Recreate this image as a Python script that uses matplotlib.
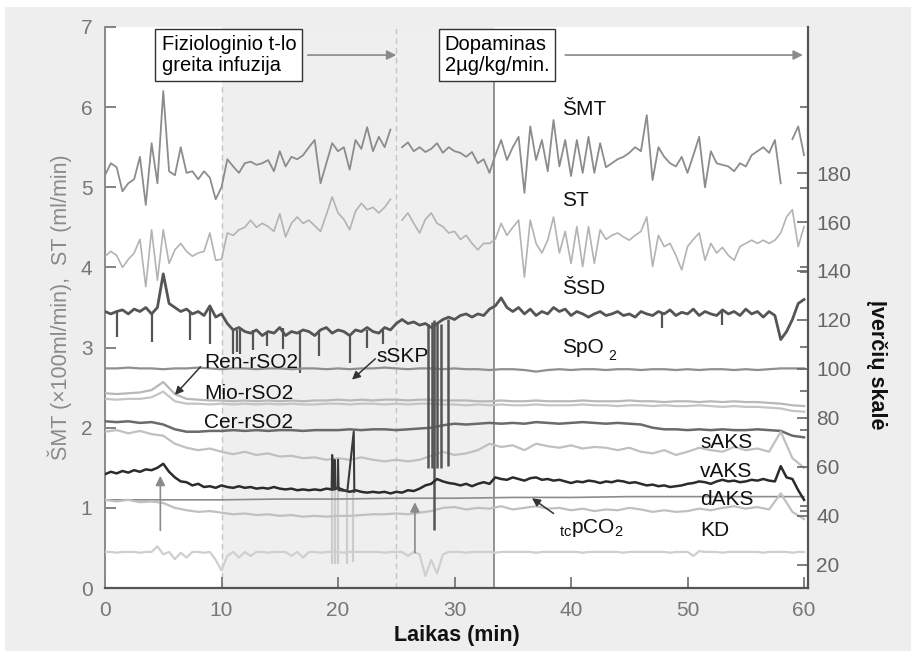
import numpy as np
import matplotlib.pyplot as plt
from matplotlib.patches import Rectangle

plt.rcParams['font.family'] = ['Liberation Sans', 'DejaVu Sans']
plt.rcParams['mathtext.fontset'] = 'custom'
plt.rcParams['mathtext.rm'] = 'Liberation Sans'

# time grids (min)
t_half = np.arange(0, 60.01, 0.5)
t_min = np.arange(0, 61, 1)
t_5 = np.arange(0, 61, 5)
nan = np.nan

# SMT, left scale (x100 ml/min), every 0.5 min
smt = [5.15, 5.30, 5.25, 4.95, 5.05, 5.10, 5.38, 4.78, 5.55, 5.05,
       6.20, 5.20, 5.15, 5.50, 5.18, 5.20, 5.10, 5.20, 5.12, 4.85,
       5.00, 5.35, 5.26, 5.18, 5.30, 5.32, 5.28, 5.30, 5.34, 5.20,
       5.45, 5.26, 5.38, 5.35, 5.40, 5.50, 5.59, 5.05, 5.30, 5.55,
       5.45, 5.50, 5.22, 5.59, 5.48, 5.75, 5.45, 5.63, 5.50, 5.72,
       nan, 5.50, 5.56, 5.45, 5.50, 5.44, 5.48, 5.55, 5.43, 5.50,
       5.45, 5.43, 5.38, 5.44, 5.30, 5.35, 5.18, 5.40, 5.59, 5.34,
       5.50, 5.63, 4.93, 5.76, 5.34, 5.59, 5.20, 5.84, 5.26, 5.59,
       5.14, 5.59, 5.18, 5.63, 5.18, 5.55, 5.25, 5.30, 5.35, 5.38,
       5.43, 5.50, 5.45, 5.90, 5.09, 5.50, 5.38, 5.30, 5.26, 5.38,
       5.18, 5.40, 5.63, 5.00, 5.45, 5.30, 5.28, 5.26, 5.20, 5.30,
       5.26, 5.40, 5.45, 5.50, 5.43, 5.59, 5.05, nan, 5.60, 5.76,
       5.40]

# ST (ml/min)
st = [4.14, 4.20, 4.15, 4.00, 4.10, 4.18, 4.35, 3.76, 4.47, 3.84,
      4.47, 4.05, 4.22, 4.30, 4.20, 4.14, 4.18, 4.20, 4.43, 4.09,
      4.10, 4.43, 4.40, 4.47, 4.50, 4.59, 4.50, 4.55, 4.51, 4.45,
      4.67, 4.38, 4.55, 4.63, 4.55, 4.59, 4.52, 4.45, 4.66, 4.88,
      4.68, 4.60, 4.47, 4.70, 4.80, 4.72, 4.75, 4.68, 4.75, 4.85,
      nan, 4.59, 4.68, 4.55, 4.43, 4.60, 4.68, 4.55, 4.51, 4.43,
      4.45, 4.35, 4.40, 4.30, 4.22, 4.30, 4.30, 4.35, 4.55, 4.40,
      4.50, 4.59, 3.88, 4.59, 4.30, 4.18, 4.34, 4.63, 4.18, 4.45,
      4.05, 4.51, 4.01, 4.51, 4.05, 4.47, 4.35, 4.40, 4.43, 4.38,
      4.34, 4.40, 4.45, 4.63, 4.01, 4.40, 4.26, 4.30, 4.15, 3.97,
      4.26, 4.35, 4.43, 4.09, 4.30, 4.18, 4.25, 4.15, 4.09, 4.26,
      4.30, 4.34, 4.30, 4.34, 4.30, 4.34, 4.43, 4.63, 4.72, 4.26,
      4.51]

# SSD
ssd = [3.45, 3.42, 3.45, 3.47, 3.42, 3.48, 3.45, 3.50, 3.42, 3.50,
       3.92, 3.55, 3.50, 3.45, 3.48, 3.42, 3.45, 3.40, 3.52, 3.38,
       3.42, 3.30, 3.22, 3.25, 3.20, 3.18, 3.22, 3.15, 3.20, 3.18,
       3.25, 3.15, 3.20, 3.18, 3.22, 3.20, 3.15, 3.22, 3.25, 3.18,
       3.22, 3.20, 3.15, 3.22, 3.20, 3.25, 3.20, 3.18, 3.25, 3.22,
       3.30, 3.35, 3.30, 3.32, 3.28, 3.30, 3.25, 3.30, 3.35, 3.38,
       3.35, 3.40, 3.42, 3.38, 3.42, 3.40, 3.48, 3.52, 3.62, 3.50,
       3.45, 3.50, 3.42, 3.48, 3.40, 3.45, 3.42, 3.50, 3.45, 3.48,
       3.40, 3.45, 3.42, 3.38, 3.42, 3.45, 3.40, 3.42, 3.45, 3.40,
       3.42, 3.38, 3.45, 3.42, 3.40, 3.45, 3.42, 3.47, 3.40, 3.44,
       3.42, 3.48, 3.40, 3.45, 3.42, 3.40, 3.47, 3.42, 3.45, 3.40,
       3.48, 3.42, 3.45, 3.38, 3.45, 3.40, 3.10, 3.20, 3.35, 3.55,
       3.60]
ssd_spike_t = [1.0, 4.0, 7.3, 9.0, 11.0, 11.3, 11.6, 12.7, 13.9, 15.3, 16.7, 18.4, 21.0, 22.5, 23.9, 47.8, 53.0]
ssd_spike_top = [3.44, 3.42, 3.45, 3.50, 3.22, 3.22, 3.25, 3.22, 3.20, 3.25, 3.20, 3.22, 3.15, 3.22, 3.22, 3.42, 3.44]
ssd_spike_low = [3.13, 3.07, 3.10, 3.05, 2.92, 2.95, 2.92, 2.97, 3.02, 2.98, 2.68, 2.90, 2.81, 3.00, 3.05, 3.25, 3.28]

# sSKP artefacts
skp_t = [27.7, 28.1, 28.2, 28.5, 28.8, 29.4]
skp_top = [3.30, 3.32, 3.35, 3.32, 3.30, 3.36]
skp_low = [1.50, 1.50, 0.72, 1.50, 1.50, 1.52]

# every 1 min
spo2 = [2.74, 2.74, 2.75, 2.74, 2.74, 2.73, 2.74, 2.74, 2.75, 2.74,
        2.73, 2.74, 2.74, 2.73, 2.74, 2.74, 2.73, 2.74, 2.74, 2.73,
        2.74, 2.73, 2.74, 2.74, 2.75, 2.74, 2.73, 2.74, 2.74, 2.73,
        2.74, 2.73, 2.73, 2.72, 2.73, 2.73, 2.72, 2.70, 2.72, 2.73,
        2.72, 2.73, 2.73, 2.72, 2.73, 2.73, 2.72, 2.73, 2.73, 2.72,
        2.73, 2.72, 2.73, 2.73, 2.72, 2.73, 2.72, 2.73, 2.74, 2.74,
        2.74]
ren = [2.43, 2.42, 2.43, 2.44, 2.47, 2.57, 2.42, 2.36, 2.35, 2.34,
       2.34, 2.33, 2.34, 2.33, 2.34, 2.33, 2.34, 2.33, 2.34, 2.34,
       2.35, 2.34, 2.35, 2.34, 2.35, 2.35, 2.34, 2.35, 2.35, 2.34,
       2.34, 2.34, 2.33, 2.33, 2.34, 2.33, 2.33, 2.34, 2.33, 2.33,
       2.33, 2.34, 2.33, 2.33, 2.33, 2.34, 2.33, 2.33, 2.32, 2.33,
       2.33, 2.32, 2.33, 2.32, 2.33, 2.32, 2.32, 2.31, 2.30, 2.28,
       2.27]
mio = [2.36, 2.35, 2.36, 2.36, 2.38, 2.45, 2.33, 2.30, 2.30, 2.29,
       2.30, 2.29, 2.30, 2.29, 2.30, 2.29, 2.30, 2.29, 2.29, 2.30,
       2.30, 2.29, 2.30, 2.30, 2.29, 2.30, 2.29, 2.30, 2.30, 2.29,
       2.29, 2.28, 2.29, 2.28, 2.29, 2.28, 2.28, 2.29, 2.28, 2.28,
       2.28, 2.29, 2.28, 2.28, 2.27, 2.28, 2.28, 2.27, 2.28, 2.27,
       2.27, 2.28, 2.27, 2.26, 2.27, 2.26, 2.26, 2.25, 2.24, 2.21,
       2.20]
cer = [2.08, 2.07, 2.08, 2.06, 2.07, 2.04, 1.98, 1.95, 1.95, 1.96,
       1.96, 1.97, 1.96, 1.97, 1.96, 1.97, 1.97, 1.96, 1.97, 1.97,
       1.97, 1.98, 1.97, 1.98, 1.98, 1.97, 1.98, 1.99, 2.00, 2.03,
       2.05, 2.04, 2.05, 2.06, 2.05, 2.06, 2.05, 2.07, 2.06, 2.05,
       2.06, 2.07, 2.06, 2.05, 2.06, 2.05, 2.04, 2.00, 1.98, 1.98,
       1.97, 1.98, 1.97, 1.98, 1.97, 1.97, 1.98, 1.97, 1.96, 1.90,
       1.88]
saks = [1.95, 1.97, 1.93, 1.96, 1.92, 1.90, 1.80, 1.75, 1.72, 1.74,
        1.70, 1.67, 1.70, 1.66, 1.68, 1.64, 1.65, 1.62, 1.63, 1.60,
        1.62, 1.60, 1.63, 1.60, 1.58, 1.60, 1.58, 1.60, 1.65, 1.70,
        1.66, 1.68, 1.72, 1.80, 1.76, 1.78, 1.72, 1.80, 1.77, 1.75,
        1.78, 1.74, 1.76, 1.75, 1.72, 1.75, 1.70, 1.68, 1.72, 1.66,
        1.70, 1.75, 1.72, 1.70, 1.76, 1.72, 1.74, 1.70, 1.95, 1.62,
        1.50]
daks = [1.10, 1.08, 1.10, 1.07, 1.08, 1.06, 1.00, 0.97, 0.95, 0.96,
        0.94, 0.92, 0.93, 0.91, 0.92, 0.90, 0.91, 0.89, 0.90, 0.89,
        0.90, 0.90, 0.91, 0.92, 0.92, 0.93, 0.92, 0.94, 0.96, 1.00,
        1.01, 0.98, 1.00, 0.99, 1.02, 0.98, 1.00, 1.02, 0.99, 1.00,
        0.97, 0.99, 0.96, 0.98, 0.97, 1.00, 0.98, 0.95, 0.97, 0.95,
        0.96, 0.99, 0.97, 1.00, 1.02, 0.99, 1.01, 0.98, 1.18, 0.95,
        0.86]

# vAKS, every 0.5 min
vaks = [1.42, 1.45, 1.43, 1.46, 1.44, 1.47, 1.45, 1.48, 1.47, 1.50,
        1.55, 1.45, 1.38, 1.33, 1.32, 1.28, 1.30, 1.26, 1.27, 1.25,
        1.28, 1.26, 1.25, 1.27, 1.25, 1.26, 1.24, 1.25, 1.24, 1.26,
        1.24, 1.23, 1.24, 1.22, 1.23, 1.22, 1.23, 1.22, 1.24, 1.23,
        1.25, 1.22, 1.20, 1.22, 1.20, 1.19, 1.20, 1.19, 1.20, 1.18,
        1.20, 1.19, 1.22, 1.21, 1.24, 1.28, 1.30, 1.36, 1.33, 1.31,
        1.30, 1.28, 1.30, 1.27, 1.30, 1.32, 1.30, 1.38, 1.36, 1.35,
        1.38, 1.36, 1.34, 1.37, 1.38, 1.35, 1.36, 1.34, 1.35, 1.33,
        1.31, 1.33, 1.32, 1.34, 1.33, 1.31, 1.33, 1.32, 1.34, 1.33,
        1.31, 1.32, 1.30, 1.28, 1.29, 1.27, 1.28, 1.26, 1.27, 1.28,
        1.30, 1.31, 1.33, 1.32, 1.30, 1.33, 1.35, 1.33, 1.34, 1.32,
        1.33, 1.35, 1.34, 1.36, 1.34, 1.33, 1.52, 1.38, 1.36, 1.22,
        1.10]
vaks_spk_t = [19.45, 19.5, 19.55, 19.65, 19.7, 19.75, 19.95, 20.0, 20.05, 20.8, 21.35, 21.4]
vaks_spk_y = [1.23, 1.66, 1.23, 1.23, 1.60, 1.23, 1.25, 1.60, 1.22, 1.21, 1.95, 1.20]
lt_spike_t = [19.5, 19.7, 20.0, 20.8, 21.3]
lt_spike_top = [1.25, 1.25, 1.25, 1.22, 1.22]
lt_spike_low = [0.30, 0.30, 0.30, 0.30, 0.32]

# tcpCO2, every 5 min
tcpco2 = [1.10, 1.10, 1.10, 1.11, 1.11, 1.12, 1.12, 1.13, 1.13, 1.14, 1.14, 1.14, 1.14]

# KD, every 0.5 min
kd = [0.45, 0.45, 0.44, 0.45, 0.45, 0.45, 0.44, 0.45, 0.45, 0.52,
      0.42, 0.45, 0.36, 0.44, 0.38, 0.45, 0.45, 0.44, 0.45, 0.35,
      0.22, 0.40, 0.45, 0.38, 0.45, 0.40, 0.45, 0.45, 0.44, 0.45,
      0.45, 0.45, 0.40, 0.45, 0.38, 0.45, 0.45, 0.44, 0.45, 0.45,
      0.45, 0.44, 0.45, 0.45, 0.45, 0.45, 0.45, 0.45, 0.44, 0.45,
      0.45, 0.45, 0.40, 0.45, 0.42, 0.15, 0.35, 0.18, 0.42, 0.45,
      0.45, 0.45, 0.44, 0.45, 0.45, 0.45, 0.45, 0.44, 0.45, 0.45,
      0.45, 0.45, 0.45, 0.45, 0.44, 0.45, 0.45, 0.45, 0.45, 0.45,
      0.45, 0.45, 0.44, 0.45, 0.45, 0.45, 0.45, 0.45, 0.45, 0.44,
      0.45, 0.45, 0.45, 0.45, 0.45, 0.45, 0.45, 0.44, 0.45, 0.45,
      0.45, 0.40, 0.46, 0.45, 0.45, 0.45, 0.44, 0.45, 0.45, 0.45,
      0.45, 0.45, 0.45, 0.44, 0.45, 0.45, 0.45, 0.45, 0.44, 0.45,
      0.45]

right_ticks = [20, 40, 60, 80, 100, 120, 140, 160, 180]
right_minor = [207, 174, 141.5, 139.5, 109, 91, 75, 44, 42]

# ---------------------------------------------------------------
fig = plt.figure(figsize=(9.12, 6.51), dpi=100, facecolor='white')
fig.patches.append(Rectangle((5 / 912, 0), 907 / 912, 644 / 651, transform=fig.transFigure,
                             facecolor='#eeeeee', edgecolor='none', zorder=-10))
ax = fig.add_axes([105 / 912, 63 / 651, 703 / 912, 561 / 651])
ax.set_facecolor('white')
ax.set_xlim(0, 60.34)
ax.set_ylim(0, 7)

ax.axvspan(10, 33.4, color='#efefef', zorder=0, lw=0)
ax.plot([10, 10], [0, 6.3], ls=(0, (4, 3)), color='#c4c4c4', lw=1, zorder=1)
ax.plot([25, 25], [0, 7], ls=(0, (4, 3)), color='#c4c4c4', lw=1, zorder=1)
ax.plot([33.4, 33.4], [0, 6.3], color='#8a8a8a', lw=1.3, zorder=1)

ax.plot(t_half, smt, color='#8c8c8c', lw=1.3, zorder=3)
ax.plot(t_half, st, color='#b3b3b3', lw=1.2, zorder=3)
ax.plot(t_half, ssd, color='#555555', lw=2.0, zorder=3)
ax.vlines(ssd_spike_t, ssd_spike_low, ssd_spike_top, color='#555555', lw=1.6, zorder=3)
ax.vlines(skp_t, skp_low, skp_top, color='#555555', lw=1.8, zorder=4)

ax.plot(t_min, spo2, color='#8f8f8f', lw=1.6, zorder=3)
ax.plot(t_min, ren, color='#b8b8b8', lw=1.6, zorder=3)
ax.plot(t_min, mio, color='#c4c4c4', lw=1.6, zorder=3)
ax.plot(t_min, cer, color='#6a6a6a', lw=1.8, zorder=3)
ax.plot(t_min, saks, color='#c0c0c0', lw=1.6, zorder=3)
ax.vlines(lt_spike_t, lt_spike_low, lt_spike_top, color='#cccccc', lw=1.6, zorder=2)
ax.plot(t_half, vaks, color='#2b2b2b', lw=1.8, zorder=4)
ax.plot(vaks_spk_t, vaks_spk_y, color='#3a3a3a', lw=1.5, zorder=4)
ax.plot(t_5, tcpco2, color='#8c8c8c', lw=1.2, zorder=3)
ax.plot(t_min, daks, color='#c0c0c0', lw=1.6, zorder=3)
ax.plot(t_half, kd, color='#cfcfcf', lw=1.6, zorder=3)

# annotations
box = dict(boxstyle='square,pad=0.3', fc='white', ec='#333333', lw=1)
ax.text(4.85, 6.65, 'Fiziologinio t-lo\ngreita infuzija', fontsize=14.5, ha='left', va='center',
        bbox=box, zorder=6, linespacing=1.15)
ax.text(29.15, 6.65, 'Dopaminas\n2\u00b5g/kg/min.', fontsize=14.5, ha='left', va='center',
        bbox=box, zorder=6, linespacing=1.15)
arrow_g = dict(arrowstyle='-|>', color='#8a8a8a', lw=1.2, mutation_scale=14, shrinkA=0, shrinkB=0)
ax.annotate('', xy=(25, 6.65), xytext=(17.4, 6.65), arrowprops=arrow_g, zorder=6)
ax.annotate('', xy=(59.9, 6.65), xytext=(39.5, 6.65), arrowprops=arrow_g, zorder=6)
ax.annotate('', xy=(4.75, 1.40), xytext=(4.75, 0.72), arrowprops=arrow_g, zorder=6)
ax.annotate('', xy=(26.6, 1.07), xytext=(26.6, 0.44), arrowprops=arrow_g, zorder=6)

arrow_d = dict(arrowstyle='-|>', color='#333333', lw=1.1, mutation_scale=12, shrinkA=0, shrinkB=0)
ax.annotate('', xy=(6.0, 2.41), xytext=(8.2, 2.76), arrowprops=arrow_d, zorder=6)
ax.annotate('', xy=(21.2, 2.60), xytext=(23.2, 2.86), arrowprops=arrow_d, zorder=6)
ax.annotate('', xy=(36.65, 1.12), xytext=(38.5, 0.93), arrowprops=arrow_d, zorder=6)

lab = dict(fontsize=15, ha='left', va='center', color='#111111', zorder=7)
ax.text(39.2, 5.97, '\u0160MT', **lab)
ax.text(39.2, 4.84, 'ST', **lab)
ax.text(39.2, 3.74, '\u0160SD', **lab)
ax.text(39.2, 3.00, 'SpO', **lab)
ax.text(43.2, 2.90, '2', fontsize=10, ha='left', va='center', color='#111111')
ax.text(8.5, 2.81, 'Ren-rSO2', **lab)
ax.text(8.5, 2.43, 'Mio-rSO2', **lab)
ax.text(8.5, 2.06, 'Cer-rSO2', **lab)
ax.text(23.3, 2.89, 'sSKP', **lab)
ax.text(51.1, 1.82, 'sAKS', **lab)
ax.text(51.1, 1.45, 'vAKS', **lab)
ax.text(51.1, 1.10, 'dAKS', **lab)
ax.text(51.1, 0.72, 'KD', **lab)
ax.text(39.0, 0.75, r'$_{\mathrm{tc}}$pCO$_{\mathrm{2}}$', **lab)

# axes styling
for s in ['top', 'right']:
    ax.spines[s].set_visible(False)
ax.spines['left'].set_color('#8a8a8a')
ax.spines['left'].set_linewidth(1.4)
ax.spines['bottom'].set_color('#555555')
ax.spines['bottom'].set_linewidth(1.6)
ax.set_xticks([0, 10, 20, 30, 40, 50, 60])
ax.set_yticks(range(0, 8))
ax.tick_params(direction='in', length=8, width=1.3, colors='#777777', labelsize=15, pad=9)
ax.set_xlabel('Laikas (min)', fontsize=15.5, fontweight='bold', color='#111111', labelpad=4)
ax.set_ylabel('\u0160MT (\u00d7100ml/min),  ST (ml/min)', fontsize=15.5, color='#8a8a8a', labelpad=6)

ax2 = ax.twinx()
ax2.set_ylim(10.6, 239.6)
ax2.set_yticks(right_ticks)
ax2.set_yticks(right_minor, minor=True)
for s in ['top', 'left', 'bottom']:
    ax2.spines[s].set_visible(False)
ax2.spines['right'].set_color('#555555')
ax2.spines['right'].set_linewidth(1.6)
ax2.tick_params(axis='y', which='both', direction='in', width=1.2, colors='#666666', labelsize=15, pad=6)
ax2.tick_params(axis='y', which='major', length=8)
ax2.tick_params(axis='y', which='minor', length=6)
fig.text(877 / 912, 1 - 365 / 651, '\u012ever\u010di\u0173 skal\u0117', rotation=-90,
         fontsize=15.5, fontweight='bold', ha='center', va='center', color='#111111')

fig.savefig('out.png', dpi=100, facecolor=fig.get_facecolor())
